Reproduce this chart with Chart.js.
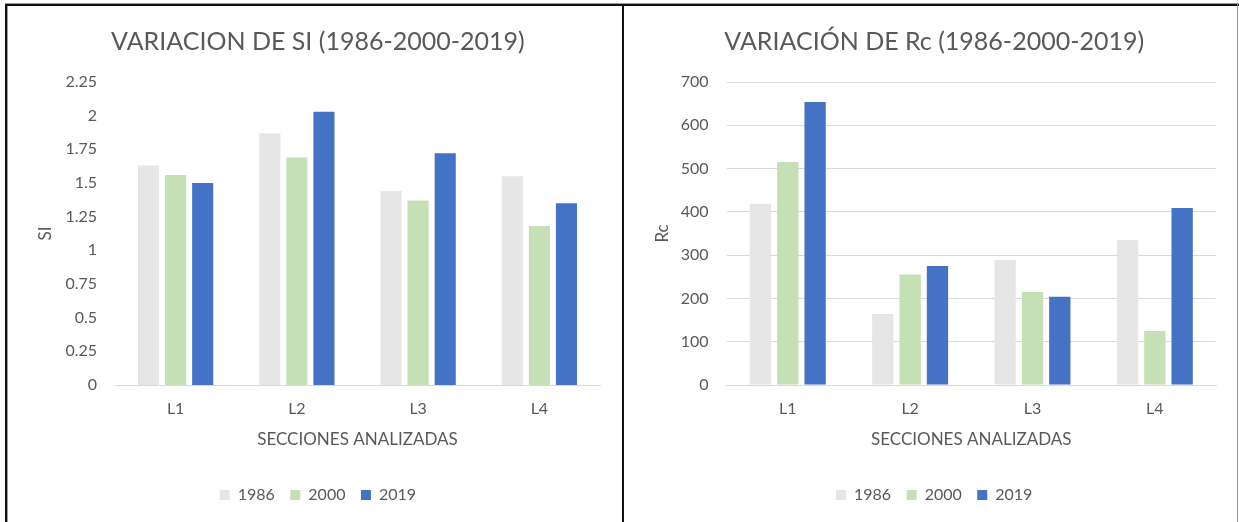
<!DOCTYPE html>
<html>
<head>
<meta charset="utf-8">
<script src="https://cdn.jsdelivr.net/npm/chart.js@4/dist/chart.umd.min.js"></script>
<style>
  html, body { margin: 0; padding: 0; background: #ffffff; }
  body { width: 1239px; height: 522px; position: relative; overflow: hidden; }
  canvas { position: absolute; top: 0; }
  #si { left: 0; }
  #rc { left: 623px; }
  .line { position: absolute; }
</style>
</head>
<body>
<canvas id="si" width="623" height="522"></canvas>
<canvas id="rc" width="616" height="522"></canvas>

<!-- marcos -->
<div class="line" style="left:5px;top:3px;width:1234px;height:1px;background:#9a9a9a"></div>
<div class="line" style="left:5px;top:4px;width:1234px;height:2px;background:#111"></div>
<div class="line" style="left:5px;top:4px;width:2px;height:518px;background:#111"></div>
<div class="line" style="left:7px;top:6px;width:1px;height:516px;background:#9a9a9a"></div>
<div class="line" style="left:622px;top:4px;width:2px;height:518px;background:#111"></div>
<div class="line" style="left:1237px;top:4px;width:1px;height:518px;background:#9a9a9a"></div>

<script>
// Datos
const secciones = ["L1", "L2", "L3", "L4"];
const anios = ["1986", "2000", "2019"];
const colores = ["#e7e6e6", "#c5e0b4", "#4472c4"];

const si1986 = [1.63, 1.87, 1.44, 1.55];
const si2000 = [1.56, 1.69, 1.37, 1.18];
const si2019 = [1.50, 2.03, 1.72, 1.35];

const rc1986 = [419, 164, 289, 335];
const rc2000 = [515, 255, 215, 125];
const rc2019 = [654, 275, 204, 409];

const siTicks = [0, 0.25, 0.5, 0.75, 1, 1.25, 1.5, 1.75, 2, 2.25];
const rcTicks = [0, 100, 200, 300, 400, 500, 600, 700];

const gris = "#595959";
const fuente = "Lato, 'Open Sans', sans-serif";

function datasets(series) {
  return series.map(function (d, i) {
    return {
      label: anios[i],
      data: d,
      backgroundColor: colores[i],
      borderWidth: 0,
      categoryPercentage: 0.67,
      barPercentage: 0.78
    };
  });
}

function creaGrafico(id, titulo, ejeY, series, ticks, conRejilla, anchoY, padIzq) {
  const config = {
    type: "bar",
    data: { labels: secciones, datasets: datasets(series) },
    options: {
      responsive: false,
      animation: false,
      layout: { padding: { left: padIzq, right: 23, top: 0, bottom: 9 } },
      plugins: {
        title: {
          display: true,
          text: titulo,
          color: gris,
          font: { family: fuente, size: 25, weight: "normal" },
          padding: { top: 27, bottom: 25 }
        },
        legend: {
          position: "bottom",
          labels: {
            color: gris,
            font: { family: fuente, size: 16 },
            boxWidth: 10,
            boxHeight: 10,
            padding: 15.5
          }
        },
        tooltip: { enabled: false }
      },
      scales: {
        x: {
          grid: { display: false, drawTicks: false },
          border: { display: true, color: "#d9d9d9", width: 1 },
          ticks: { color: gris, font: { family: fuente, size: 16 }, padding: 14 },
          title: {
            display: true,
            text: "SECCIONES ANALIZADAS",
            color: gris,
            font: { family: fuente, size: 17 },
            padding: { top: 0, bottom: 21.3 }
          },
          afterFit: function (scale) { scale.height = 86.5; }
        },
        y: {
          min: 0,
          max: ticks[ticks.length - 1],
          afterBuildTicks: function (scale) {
            scale.ticks = ticks.map(function (v) { return { value: v }; });
          },
          grid: { display: conRejilla, color: "#d9d9d9", drawTicks: false },
          border: { display: false },
          ticks: {
            color: gris,
            font: { family: fuente, size: 16 },
            padding: 18,
            callback: function (v) { return String(v); }
          },
          title: {
            display: true,
            text: ejeY,
            color: gris,
            font: { family: fuente, size: 17 },
            padding: { top: 0, bottom: 0 }
          },
          afterFit: function (scale) { scale.width = anchoY; }
        }
      }
    }
  };
  new Chart(document.getElementById(id).getContext("2d"), config);
}

creaGrafico("si", "VARIACION DE SI (1986-2000-2019)", "SI",
  [si1986, si2000, si2019], siTicks, false, 79.2, 35.8);
creaGrafico("rc", "VARIACIÓN DE Rc (1986-2000-2019)", "Rc",
  [rc1986, rc2000, rc2019], rcTicks, true, 74.2, 29.4);
</script>
</body>
</html>
